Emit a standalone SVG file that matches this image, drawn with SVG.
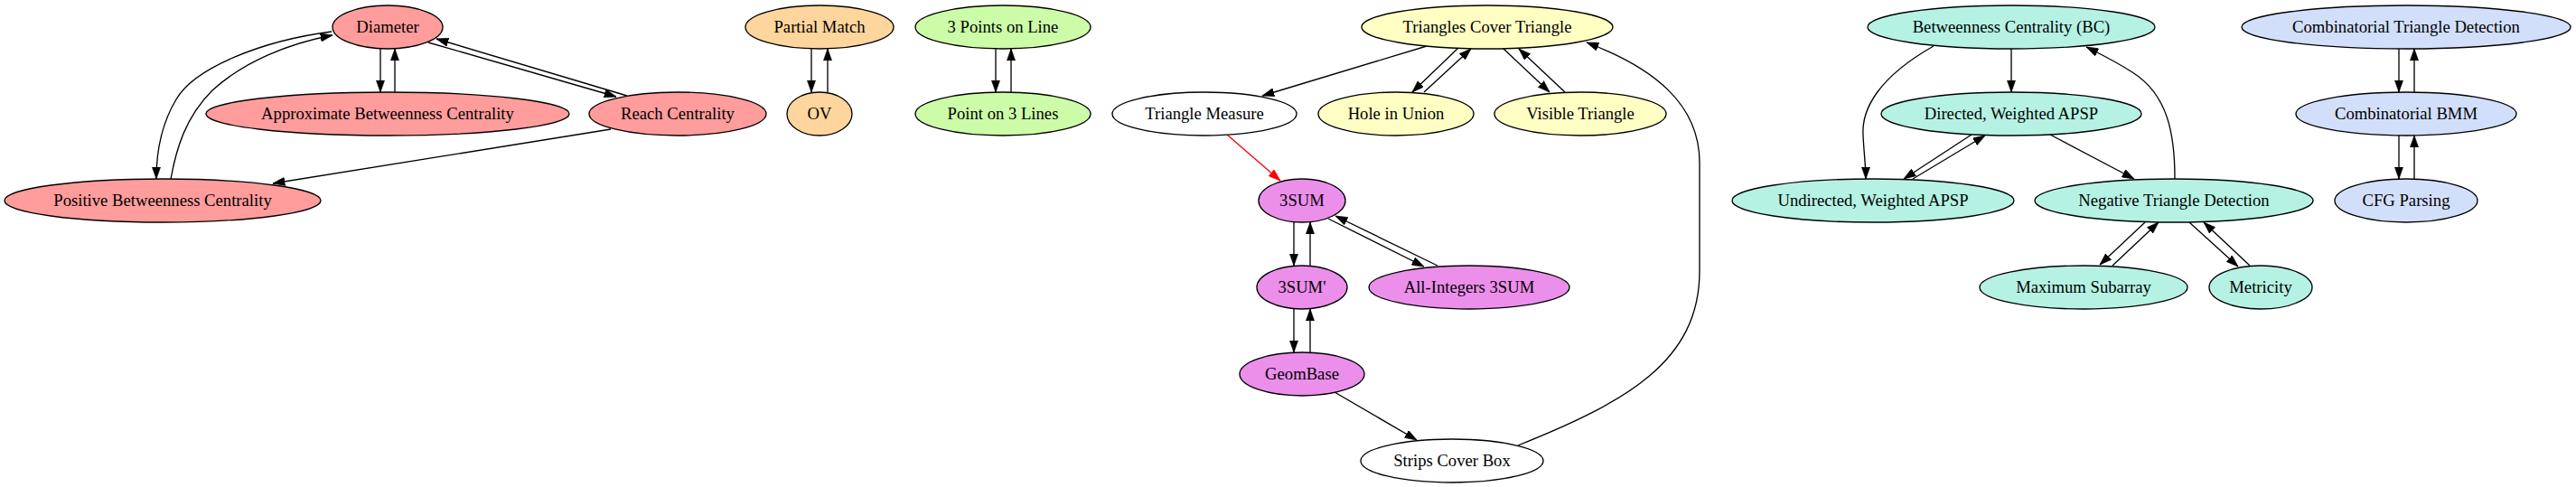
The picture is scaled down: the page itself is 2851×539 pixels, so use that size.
<svg xmlns="http://www.w3.org/2000/svg" width="2851" height="539" viewBox="0 0 2851 539">
<style>
.n ellipse{stroke:#000;stroke-width:1.33}
.n text{font-family:"Liberation Serif","Times New Roman",serif;font-size:18.67px;text-anchor:middle;fill:#000}
.pk ellipse{fill:#ff9c9c}
.or ellipse{fill:#ffd59e}
.gr ellipse{fill:#ccfca8}
.ye ellipse{fill:#ffffc4}
.vi ellipse{fill:#eb8feb}
.te ellipse{fill:#b5f2e3}
.bl ellipse{fill:#d2dffa}
.wh ellipse{fill:#fff}
#edges path{fill:none;stroke:#000;stroke-width:1.33;marker-end:url(#ah)}
#edges path.red{stroke:#f00;marker-end:url(#ahr)}
</style>
<defs>
<marker id="ah" viewBox="0 0 10 7" refX="10" refY="3.5" markerWidth="13.3" markerHeight="9.3" markerUnits="userSpaceOnUse" orient="auto"><path d="M0,0 L10,3.5 L0,7 z" fill="#000" stroke="#000" stroke-width="0.5"/></marker>
<marker id="ahr" viewBox="0 0 10 7" refX="10" refY="3.5" markerWidth="13.3" markerHeight="9.3" markerUnits="userSpaceOnUse" orient="auto"><path d="M0,0 L10,3.5 L0,7 z" fill="#f00" stroke="#f00" stroke-width="0.5"/></marker>
</defs>
<rect width="2851" height="539" fill="#fff"/>
<g id="edges">
<path d="M421,54 L421,102"/>
<path d="M437,102 L437,54"/>
<path d="M474,47 L682,107"/>
<path d="M694,106 L483,43"/>
<path d="M367,35 C290,45 215,75 195,110 C180,135 173,165 173,198"/>
<path d="M189,198 C195,165 205,130 235,100 C270,68 320,48 368,39"/>
<path d="M676,143 L302,203"/>
<path d="M898,54 L898,102"/>
<path d="M916,102 L916,54"/>
<path d="M1102,54 L1102,102"/>
<path d="M1119,102 L1119,54"/>
<path d="M1579,51 L1397,106"/>
<path class="red" d="M1358,149 L1417,200"/>
<path d="M1614,53 L1563,102"/>
<path d="M1576,102 L1628,54"/>
<path d="M1663,53 L1715,102"/>
<path d="M1732,102 L1681,54"/>
<path d="M1432,246 L1432,294"/>
<path d="M1450,294 L1450,246"/>
<path d="M1470,242 L1576,295"/>
<path d="M1591,294 L1478,239"/>
<path d="M1432,342 L1432,390"/>
<path d="M1450,390 L1450,342"/>
<path d="M1477,434 L1568,487"/>
<path d="M1680,493 C1800,445 1881,400 1881,300 L1881,180 C1881,115 1830,75 1756,47"/>
<path d="M2226,54 L2226,102"/>
<path d="M2140,51 C2080,85 2060,120 2062,150 C2063,170 2065,185 2065,198"/>
<path d="M2182,149 L2107,198"/>
<path d="M2117,198 L2197,150"/>
<path d="M2269,149 L2362,198"/>
<path d="M2407,198 C2407,150 2400,105 2360,80 C2340,67 2325,60 2309,52"/>
<path d="M2374,246 L2324,293"/>
<path d="M2338,294 L2389,246"/>
<path d="M2423,246 L2477,295"/>
<path d="M2490,294 L2439,246"/>
<path d="M2655,54 L2655,102"/>
<path d="M2672,102 L2672,54"/>
<path d="M2655,150 L2655,198"/>
<path d="M2672,198 L2672,150"/>
</g>
<g id="diameter" class="n pk"><ellipse cx="429" cy="30" rx="61" ry="24"/><text x="429" y="36">Diameter</text></g>
<g id="approx-bc" class="n pk"><ellipse cx="429" cy="126" rx="201" ry="24"/><text x="429" y="132">Approximate Betweenness Centrality</text></g>
<g id="reach" class="n pk"><ellipse cx="750" cy="126" rx="98" ry="24"/><text x="750" y="132">Reach Centrality</text></g>
<g id="positive-bc" class="n pk"><ellipse cx="180" cy="222" rx="175" ry="24"/><text x="180" y="228">Positive Betweenness Centrality</text></g>
<g id="partial-match" class="n or"><ellipse cx="907" cy="30" rx="82" ry="24"/><text x="907" y="36">Partial Match</text></g>
<g id="ov" class="n or"><ellipse cx="907" cy="126" rx="36" ry="24"/><text x="907" y="132">OV</text></g>
<g id="3points" class="n gr"><ellipse cx="1110" cy="30" rx="97" ry="24"/><text x="1110" y="36">3 Points on Line</text></g>
<g id="point3lines" class="n gr"><ellipse cx="1110" cy="126" rx="97" ry="24"/><text x="1110" y="132">Point on 3 Lines</text></g>
<g id="tct" class="n ye"><ellipse cx="1646" cy="30" rx="139" ry="24"/><text x="1646" y="36">Triangles Cover Triangle</text></g>
<g id="triangle-measure" class="n wh"><ellipse cx="1333" cy="126" rx="102" ry="24"/><text x="1333" y="132">Triangle Measure</text></g>
<g id="hole-union" class="n ye"><ellipse cx="1545" cy="126" rx="86" ry="24"/><text x="1545" y="132">Hole in Union</text></g>
<g id="visible-triangle" class="n ye"><ellipse cx="1749" cy="126" rx="95" ry="24"/><text x="1749" y="132">Visible Triangle</text></g>
<g id="3sum" class="n vi"><ellipse cx="1441" cy="222" rx="48" ry="24"/><text x="1441" y="228">3SUM</text></g>
<g id="3sum-prime" class="n vi"><ellipse cx="1441" cy="318" rx="50" ry="24"/><text x="1441" y="324">3SUM'</text></g>
<g id="all-int-3sum" class="n vi"><ellipse cx="1626" cy="318" rx="111" ry="24"/><text x="1626" y="324">All-Integers 3SUM</text></g>
<g id="geombase" class="n vi"><ellipse cx="1441" cy="414" rx="69" ry="24"/><text x="1441" y="420">GeomBase</text></g>
<g id="strips" class="n wh"><ellipse cx="1607" cy="510" rx="101" ry="24"/><text x="1607" y="516">Strips Cover Box</text></g>
<g id="bc" class="n te"><ellipse cx="2226" cy="30" rx="159" ry="24"/><text x="2226" y="36">Betweenness Centrality (BC)</text></g>
<g id="dw-apsp" class="n te"><ellipse cx="2226" cy="126" rx="144" ry="24"/><text x="2226" y="132">Directed, Weighted APSP</text></g>
<g id="uw-apsp" class="n te"><ellipse cx="2073" cy="222" rx="156" ry="24"/><text x="2073" y="228">Undirected, Weighted APSP</text></g>
<g id="ntd" class="n te"><ellipse cx="2406" cy="222" rx="154" ry="24"/><text x="2406" y="228">Negative Triangle Detection</text></g>
<g id="max-subarray" class="n te"><ellipse cx="2306" cy="318" rx="115" ry="24"/><text x="2306" y="324">Maximum Subarray</text></g>
<g id="metricity" class="n te"><ellipse cx="2502" cy="318" rx="57" ry="24"/><text x="2502" y="324">Metricity</text></g>
<g id="ctd" class="n bl"><ellipse cx="2663" cy="30" rx="182" ry="24"/><text x="2663" y="36">Combinatorial Triangle Detection</text></g>
<g id="cbmm" class="n bl"><ellipse cx="2663" cy="126" rx="122" ry="24"/><text x="2663" y="132">Combinatorial BMM</text></g>
<g id="cfg" class="n bl"><ellipse cx="2663" cy="222" rx="79" ry="24"/><text x="2663" y="228">CFG Parsing</text></g>
</svg>
